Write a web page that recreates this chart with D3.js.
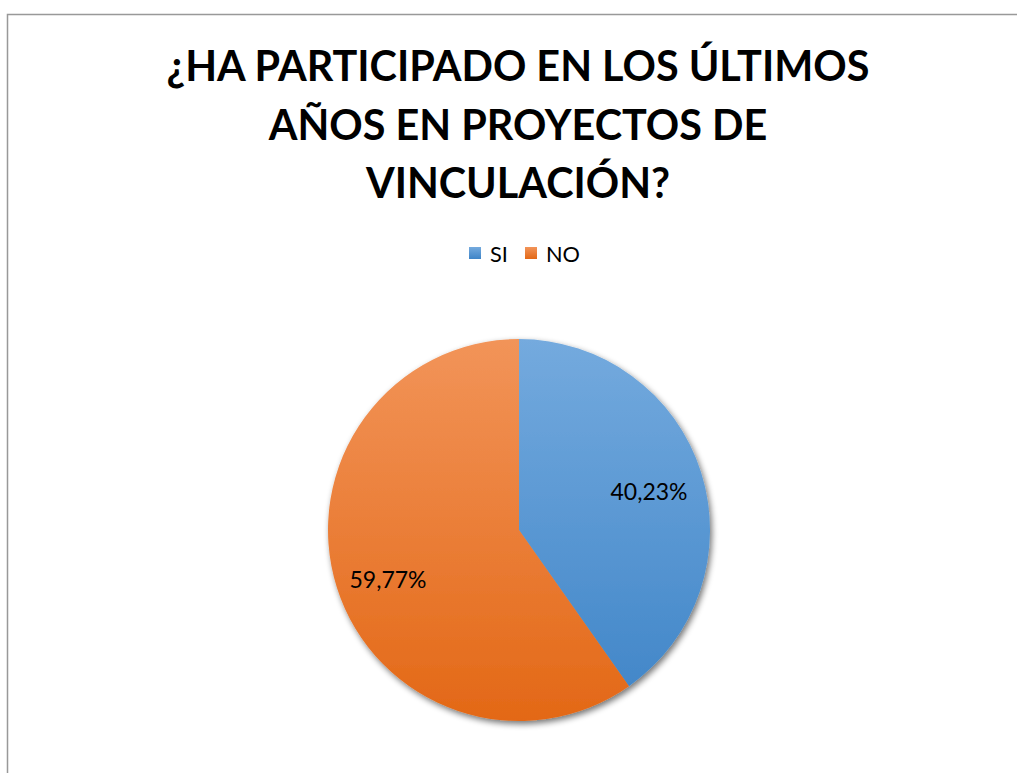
<!DOCTYPE html>
<html><head><meta charset="utf-8">
<script src="https://cdn.jsdelivr.net/npm/d3@7"></script>
<style>body{margin:0;background:#fff}svg{display:block}</style>
</head><body>
<script>
const titleLines = ["¿HA PARTICIPADO EN LOS ÚLTIMOS", "AÑOS EN PROYECTOS DE", "VINCULACIÓN?"];
const categories = ["SI", "NO"];
const values = [40.23, 59.77];
const labels = ["40,23%", "59,77%"];
const colorsTop = ["#74aade", "#f29459"];
const colorsBottom = ["#3e84c7", "#e36816"];

const W = 1017, H = 773;
const svg = d3.select("body").append("svg").attr("width", W).attr("height", H);
const defs = svg.append("defs");

svg.append("rect").attr("x", 7.5).attr("y", 14.5).attr("width", 1200).attr("height", 900)
  .attr("fill", "#fff").attr("stroke", "#999").attr("stroke-width", 1.5);

const font = "Lato, 'Open Sans', 'Liberation Sans', sans-serif";
const titleBase = [81, 140, 198];
const tg = svg.append("g");
titleLines.forEach((t, i) => {
  tg.append("text").attr("x", 518).attr("y", titleBase[i]).attr("text-anchor", "middle")
    .attr("font-family", font).attr("font-weight", 700).attr("font-size", 39).attr("fill", "#000").text(t);
});
// fit line 1 width to reference (~703px)
const w1 = tg.select("text").node().getComputedTextLength();
const fsT = 39 * 703 / w1;
tg.selectAll("text").attr("font-size", fsT);

// legend
const legend = svg.append("g").attr("font-family", font).attr("font-size", 20);
const legX = [469, 525];
categories.forEach((c, i) => {
  const g = defs.append("linearGradient").attr("id", "lg" + i).attr("x1", 0).attr("y1", 0).attr("x2", 0).attr("y2", 1);
  g.append("stop").attr("offset", 0).attr("stop-color", colorsTop[i]);
  g.append("stop").attr("offset", 1).attr("stop-color", colorsBottom[i]);
  legend.append("rect").attr("x", legX[i]).attr("y", 247).attr("width", 12).attr("height", 12).attr("fill", "url(#lg" + i + ")");
  legend.append("text").attr("x", legX[i] + 21).attr("y", 262).attr("fill", "#000").text(c);
});
const wNO = legend.selectAll("text").nodes()[1].getComputedTextLength();
legend.attr("font-size", 20 * 34 / wNO);

// pie
const cx = 519, cy = 530, r = 191;
const pie = d3.pie().sort(null).value(d => d);
const arcs = pie(values);
const arc = d3.arc().innerRadius(0).outerRadius(r);

categories.forEach((c, i) => {
  const g = defs.append("linearGradient").attr("id", "pg" + i).attr("gradientUnits", "userSpaceOnUse")
    .attr("x1", 0).attr("y1", -r).attr("x2", 0).attr("y2", r);
  g.append("stop").attr("offset", 0).attr("stop-color", colorsTop[i]);
  g.append("stop").attr("offset", 1).attr("stop-color", colorsBottom[i]);
});
const filt = defs.append("filter").attr("id", "sh").attr("x", "-20%").attr("y", "-20%").attr("width", "140%").attr("height", "140%");
filt.append("feGaussianBlur").attr("in", "SourceAlpha").attr("stdDeviation", 3);
filt.append("feOffset").attr("dx", 2).attr("dy", 3).attr("result", "ob");
filt.append("feComponentTransfer").append("feFuncA").attr("type", "linear").attr("slope", 0.55);
const merge = filt.append("feMerge");
merge.append("feMergeNode");
merge.append("feMergeNode").attr("in", "SourceGraphic");

const pg = svg.append("g").attr("transform", `translate(${cx},${cy})`).attr("filter", "url(#sh)");
pg.selectAll("path").data(arcs).join("path")
  .attr("d", arc).attr("fill", (d, i) => "url(#pg" + i + ")");

const lblPos = [[649 - cx, 492 - cy], [388 - cx, 580 - cy]];
const lg = svg.append("g").attr("transform", `translate(${cx},${cy})`).attr("font-family", font).attr("font-size", 20);
arcs.forEach((d, i) => {
  lg.append("text").attr("x", lblPos[i][0]).attr("y", lblPos[i][1]).attr("dy", "0.35em")
    .attr("text-anchor", "middle").attr("fill", "#000")
    .text(labels[i]);
});
const wL = lg.select("text").node().getComputedTextLength();
lg.attr("font-size", 20 * 77 / wL);
</script>
</body></html>
